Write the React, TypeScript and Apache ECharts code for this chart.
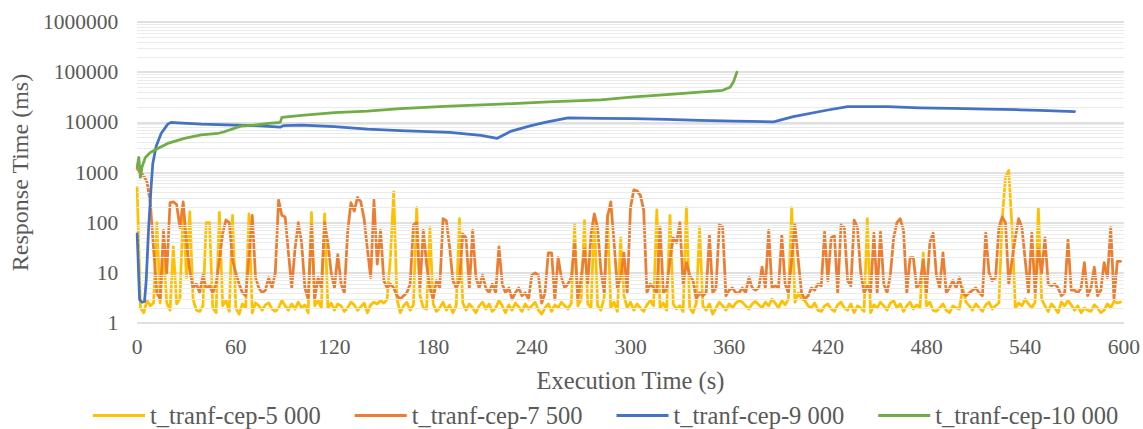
import React, { useEffect, useRef } from "react";
import * as echarts from "echarts";

// sampling step of the two noisy series (seconds)
const X_STEP = 2;

const seriesNames = [
  "t_tranf-cep-5 000",
  "t_tranf-cep-7 500",
  "t_tranf-cep-9 000",
  "t_tranf-cep-10 000",
];
const seriesColors = ["#FFC000", "#ED7D31", "#4472C4", "#70AD47"];

const yTickLabels = ["1", "10", "100", "1000", "10000", "100000", "1000000"];

const yellowValues = [
  500, 2, 1.6, 2.8, 2.2, 2.5, 100, 2.5, 28, 2.5,
  1.8, 33, 2.4, 3, 200, 8, 165, 3, 1.8, 1.7,
  2.2, 100, 100, 2, 1.6, 160, 2.2, 2.8, 1.7, 140,
  2.0, 1.5, 2.4, 2.0, 150, 1.6, 2.5, 2.2, 1.8, 2.3,
  2.5, 1.9, 1.7, 2.0, 2.8, 2.2, 1.8, 2.4, 1.9, 2.6,
  2.0, 2.3, 1.6, 160, 2.2, 2.8, 2.0, 150, 2.0, 2.5,
  1.8, 2.4, 2.2, 1.7, 2.0, 2.6, 2.3, 1.8, 2.1, 2.5,
  1.6, 2.3, 2.6, 2.4, 2.8, 2.5, 3.0, 20, 410, 3,
  1.6, 2.2, 2.6, 1.8, 2.3, 200, 3.5, 2.0, 1.9, 80,
  2.4, 1.7, 2.0, 2.6, 1.8, 2.3, 1.6, 2.2, 120, 2.5,
  1.8, 2.4, 2.0, 1.6, 2.2, 2.6, 1.9, 2.4, 1.7, 2.0,
  2.8, 2.2, 1.6, 2.3, 1.8, 2.5, 2.1, 1.7, 2.4, 1.9,
  2.2, 2.6, 1.8, 1.5, 2.0, 2.4, 1.7, 2.3, 2.0, 2.6,
  2.2, 1.9, 2.5, 90, 2.2, 3, 110, 2.4, 2.0, 130,
  2.2, 1.8, 3.2, 140, 2.0, 2.6, 1.7, 50, 3.5, 2.0,
  2.6, 1.8, 2.4, 2.0, 1.7, 2.3, 2.8, 2.2, 180, 2.0,
  2.5, 1.8, 140, 2.4, 1.9, 2.2, 1.7, 200, 2.0, 1.6,
  2.5, 80, 2.2, 1.8, 2.4, 1.5, 2.0, 2.6, 2.2, 1.8,
  2.4, 2.0, 2.5, 2.8, 2.6, 2.2, 1.9, 2.4, 2.7, 2.3,
  2.0, 2.6, 2.2, 3.0, 2.5, 2.0, 2.8, 2.3, 3.0, 200,
  2.6, 4, 3, 2.8, 2.2, 2.0, 2.5, 1.8, 1.7, 2.2,
  2.4, 1.9, 1.7, 2.3, 2.6, 2.0, 1.8, 2.4, 1.6, 2.2,
  2.0, 1.7, 120, 1.6, 2.3, 2.0, 2.6, 2.2, 1.8, 2.5,
  2.8, 2.0, 2.4, 1.7, 2.2, 2.6, 1.9, 2.3, 2.0, 25,
  2.2, 2.6, 1.8, 1.7, 2.0, 2.4, 1.8, 1.6, 2.2, 2.0,
  1.9, 5, 2.6, 2.2, 1.8, 2.4, 2.0, 1.7, 2.3, 2.6,
  1.9, 2.2, 2.5, 113, 800, 1100, 80, 2, 2.5, 2.2,
  3.0, 2.4, 2.0, 2.6, 195, 3, 2.2, 1.7, 2.4, 2.0,
  1.6, 2.6, 2.2, 2.8, 2.3, 1.8, 2.2, 1.6, 2.0, 1.8,
  1.7, 2.3, 2.0, 1.6, 1.8, 2.4, 2.0, 2.7, 2.5, 2.6,
];

const orangeValues = [
  1200, 1000, 850, 650, 250, 30, 4, 3, 70, 10,
  250, 260, 230, 80, 260, 40, 11, 5, 6, 4,
  9, 5, 5.5, 4, 6, 18, 60, 113, 100, 18,
  10, 6, 4, 3.5, 20, 140, 8, 5, 4, 4.5,
  8, 5, 10, 280, 140, 130, 25, 5, 30, 100,
  40, 5, 3, 90, 3, 8, 5, 100, 40, 10,
  5, 23, 6, 4, 65, 250, 170, 320, 260, 120,
  30, 8, 280, 15, 70, 7, 5, 6, 5, 3.5,
  3, 3.5, 4, 6, 90, 100, 5, 70, 15, 5,
  3, 7, 5, 120, 110, 33, 7, 5, 7, 60,
  50, 5, 70, 8, 5, 9, 5, 4, 6, 4,
  33, 6, 4, 5, 3, 4, 5, 3.5, 4, 3,
  9, 10, 9, 2.5, 4, 25, 25, 3, 20, 8,
  5, 6, 8, 40, 3, 8, 30, 6, 60, 150,
  80, 11, 4, 130, 260, 40, 5, 8, 25, 4,
  200, 450, 430, 350, 180, 4, 6, 5, 4, 80,
  4, 5, 18, 50, 40, 100, 6, 16, 9, 7,
  3, 4, 3.5, 4, 55, 4, 5, 90, 85, 3.5,
  4.5, 5, 4, 4, 5, 4, 8, 5, 4.5, 5,
  13, 5, 70, 5, 5.5, 5, 55, 6, 4, 18,
  90, 18, 4, 3, 3.5, 5, 4.5, 6, 5.5, 65,
  7, 50, 55, 4, 90, 80, 7, 5.5, 113, 80,
  10, 4, 5.5, 4, 62, 4, 65, 6, 4, 9,
  50, 100, 120, 70, 4, 20, 20, 5, 6, 18,
  4, 40, 62, 9, 5, 25, 4, 5, 7, 5,
  8, 4, 3.5, 4, 4.5, 5, 4, 3.5, 62, 10,
  7, 8, 80, 130, 100, 6, 18, 50, 120, 80,
  18, 4, 62, 4, 30, 10, 50, 6, 5.5, 6,
  5, 3.5, 4, 45, 4.5, 4.5, 4, 5, 16, 3.5,
  5, 13, 3.5, 4.5, 16, 8, 80, 3, 17, 17,
];

const blueTimes = [
  0, 1.5, 3, 4.5, 5.5, 7, 8.5, 9.5, 11.5, 14.6, 18.6, 20.6, 25, 39, 59, 75,
  87, 89, 100, 120, 140, 160, 190, 209, 219, 227, 239, 248, 262, 282, 302,
  322, 342, 363, 387, 399, 420, 432, 456, 476, 496, 517, 537, 549, 570,
];
const blueValues = [
  60, 2.9, 2.6, 2.7, 7, 80, 520, 1500, 3300, 6000, 9200, 10000, 9800, 9200,
  8800, 8500, 8000, 8600, 8800, 8200, 7300, 6800, 6300, 5500, 4800, 6600,
  8500, 10000, 12300, 12000, 11800, 11500, 11000, 10600, 10200, 13000, 17600,
  20500, 20500, 19500, 19000, 18300, 17800, 17400, 16400,
];

const greenTimes = [
  0, 1, 2, 3, 5, 8, 12.5, 18.6, 28.7, 38.9, 49, 53, 63, 71, 80, 87, 88, 100,
  120, 140, 160, 190, 221, 250, 282, 302, 322, 342, 356, 360.6, 362.7, 364.7,
];
const greenValues = [
  1300, 2000, 800, 1300, 2000, 2500, 3000, 3800, 4800, 5600, 6000, 6500, 8400,
  8800, 9500, 10000, 12500, 13800, 15700, 16800, 18800, 21000, 23000, 25500,
  28000, 32000, 35500, 40000, 43500, 50000, 65000, 100000,
];

export default function App() {
  const ref = useRef<HTMLDivElement>(null);

  useEffect(() => {
    if (!ref.current) return;
    const chart = echarts.init(ref.current, null, { renderer: "svg" });
    const font = "Liberation Serif";

    const minorLines: number[] = [];
    for (let d = 1; d < 1000000; d *= 10) {
      for (let m = 2; m <= 9; m++) minorLines.push(d * m);
    }

    const yellowData = yellowValues.map((v, i) => [i * X_STEP, v]);
    const orangeData = orangeValues.map((v, i) => [i * X_STEP, v]);
    const blueData = blueTimes.map((t, i) => [t, blueValues[i]]);
    const greenData = greenTimes.map((t, i) => [t, greenValues[i]]);
    const datasets = [yellowData, orangeData, blueData, greenData];

    const lineSeries = datasets.map((d, i) => ({
      name: seriesNames[i],
      type: "line",
      data: d,
      showSymbol: false,
      symbol: "none",
      z: 3 + i,
      color: seriesColors[i],
      lineStyle: { color: seriesColors[i], width: 2.75, join: "round", cap: "round" },
      itemStyle: { color: seriesColors[i] },
    }));

    chart.setOption({
      animation: false,
      backgroundColor: "#ffffff",
      textStyle: { fontFamily: font },
      grid: { left: 136, right: 17, top: 22, bottom: 106, containLabel: false },
      legend: {
        data: seriesNames,
        left: 88,
        top: 398,
        icon: "rect",
        itemWidth: 52,
        itemHeight: 3,
        itemGap: 34,
        textStyle: { fontFamily: font, fontSize: 24.5, color: "#595959" },
      },
      xAxis: {
        type: "value",
        min: 0,
        max: 600,
        interval: 60,
        name: "Execution Time (s)",
        nameLocation: "middle",
        nameGap: 45,
        nameTextStyle: { fontFamily: font, fontSize: 24.5, color: "#595959" },
        axisLine: { show: false },
        axisTick: { show: false },
        splitLine: { show: false },
        axisLabel: { fontFamily: font, fontSize: 21.5, color: "#595959", margin: 13 },
      },
      yAxis: {
        type: "log",
        logBase: 10,
        min: 1,
        max: 1000000,
        name: "Response Time (ms)",
        nameLocation: "middle",
        nameGap: 102,
        nameTextStyle: { fontFamily: font, fontSize: 24, color: "#595959" },
        axisLine: { show: false },
        axisTick: { show: false },
        splitLine: { show: true, lineStyle: { color: "#d6d6d6", width: 1.5 } },
        axisLabel: {
          fontFamily: font,
          fontSize: 21.5,
          color: "#595959",
          margin: 19,
          formatter: (v: number) => yTickLabels[Math.round(Math.log10(v))],
        },
      },
      series: [
        {
          name: "minor-grid",
          type: "line",
          data: [[0, 1]],
          showSymbol: false,
          symbol: "none",
          silent: true,
          z: 1,
          lineStyle: { opacity: 0 },
          markLine: {
            silent: true,
            symbol: ["none", "none"],
            label: { show: false },
            lineStyle: { color: "#ebebeb", type: "solid", width: 1 },
            emphasis: { disabled: true },
            data: minorLines.map((v) => ({ yAxis: v })),
          },
        },
        ...lineSeries,
      ],
    });

    return () => chart.dispose();
  }, []);

  return (
    <div
      ref={ref}
      style={{ position: "absolute", left: 0, top: 0, width: 1143, height: 429 }}
    />
  );
}
